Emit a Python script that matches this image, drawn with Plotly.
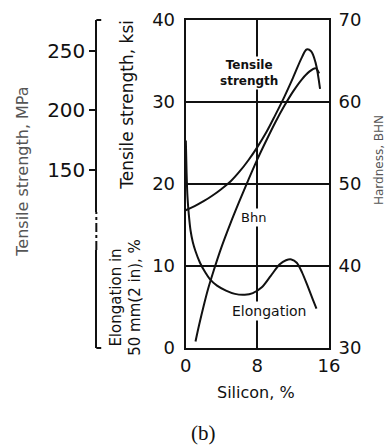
import plotly.graph_objects as go

# ---------------- data ----------------
silicon_tensile = [0, 1, 2, 3, 4, 5, 6, 7, 8, 9, 10, 11, 12, 13, 13.5, 14, 14.5, 15]
tensile_ksi = [16.8, 17.3, 17.9, 18.6, 19.4, 20.3, 21.5, 22.9, 24.5, 26.3, 28.4, 30.6, 33.0, 35.5, 36.4, 36.2, 34.8, 31.6]

silicon_bhn = [1.1, 1.5, 2, 2.5, 3, 4, 5, 6, 7, 8, 9, 10, 11, 12, 13, 13.8, 14.5, 14.9]
hardness_bhn = [30.8, 32.8, 35.1, 37.2, 39.0, 42.3, 45.2, 47.9, 50.5, 53.0, 55.3, 57.5, 59.5, 61.3, 62.8, 63.7, 64.1, 63.5]

silicon_elong = [0.02, 0.1, 0.2, 0.35, 0.55, 0.8, 1.1, 1.6, 2.2, 2.7, 3.5, 4.5, 5.5, 6.6, 7.5, 8.5, 9.5, 10.5, 11.2, 11.8, 12.4, 13, 13.6, 14.2, 14.6]
elongation_pct = [25.3, 21.5, 18.5, 16.3, 14.3, 12.9, 11.8, 10.4, 9.2, 8.4, 7.6, 7.0, 6.6, 6.5, 6.7, 7.4, 8.8, 10.2, 10.7, 10.8, 10.4, 9.2, 7.6, 5.9, 4.8]

x_ticks = [0, 8, 16]
ksi_ticks = [0, 10, 20, 30, 40]
bhn_ticks = [30, 40, 50, 60, 70]
mpa_ticks = [150, 200, 250]
KSI_TO_MPA = 6.895

# ---------------- layout geometry ----------------
W, H = 388, 447
ML, MR, MT, MB = 0, 59, 20, 99
PW = W - ML - MR      # 329
PH = H - MT - MB      # 328
x_dom0 = 183 / PW
side_x = 92 / PW
mpa_bottom = 0.415
elong_top = 0.299

def px(v):
    return v / PW

def py(v):
    return (348 - v) / PH

INK = "#111111"
FONT = "DejaVu Sans"

fig = go.Figure()

# empty traces so the side scales are attached to a subplot
fig.add_trace(go.Scatter(x=[None], y=[None], yaxis="y3", showlegend=False, hoverinfo="skip"))
fig.add_trace(go.Scatter(x=[None], y=[None], yaxis="y4", showlegend=False, hoverinfo="skip"))

fig.add_trace(go.Scatter(x=silicon_tensile, y=tensile_ksi, mode="lines",
                         line=dict(color=INK, width=2, shape="spline", smoothing=1.0),
                         showlegend=False, hoverinfo="skip"))
fig.add_trace(go.Scatter(x=silicon_bhn, y=hardness_bhn, mode="lines", yaxis="y2",
                         line=dict(color=INK, width=2, shape="spline", smoothing=1.0),
                         showlegend=False, hoverinfo="skip"))
fig.add_trace(go.Scatter(x=silicon_elong, y=elongation_pct, mode="lines",
                         line=dict(color=INK, width=2, shape="spline", smoothing=0.8),
                         showlegend=False, hoverinfo="skip"))

tickfont = dict(family=FONT, size=18, color=INK)

fig.update_layout(
    width=W, height=H,
    margin=dict(l=ML, r=MR, t=MT, b=MB, pad=0),
    paper_bgcolor="white", plot_bgcolor="rgba(0,0,0,0)",
    showlegend=False,
    xaxis=dict(domain=[x_dom0, 1], range=[0, 16], tickvals=x_ticks,
               ticks="", showgrid=True, gridcolor=INK, gridwidth=1.6,
               zeroline=False, showline=True, linecolor=INK, linewidth=2,
               mirror=True, tickfont=tickfont, fixedrange=True),
    yaxis=dict(range=[0, 40], tickvals=ksi_ticks, ticks="outside", ticklen=5,
               tickcolor="rgba(0,0,0,0)",
               showgrid=True, gridcolor=INK, gridwidth=1.6, zeroline=False,
               showline=True, linecolor=INK, linewidth=2, mirror=True,
               tickfont=tickfont, fixedrange=True),
    yaxis2=dict(range=[30, 70], tickvals=bhn_ticks, overlaying="y", side="right",
                anchor="x", showgrid=False, zeroline=False, ticks="outside",
                ticklen=5, tickcolor="rgba(0,0,0,0)",
                showline=False, tickfont=tickfont, fixedrange=True),
    yaxis3=dict(domain=[mpa_bottom, 1],
                range=[40 * KSI_TO_MPA * mpa_bottom, 40 * KSI_TO_MPA],
                anchor="free", position=side_x, side="left",
                tickvals=mpa_ticks, ticks="outside", ticklen=6, tickwidth=2,
                tickcolor=INK, showgrid=False, zeroline=False,
                showline=True, linecolor=INK, linewidth=2,
                tickfont=dict(family=FONT, size=20, color=INK), fixedrange=True),
    yaxis4=dict(domain=[0, elong_top], range=[0, 1], anchor="free",
                position=side_x, side="left", showticklabels=False, ticks="",
                showgrid=False, zeroline=False, showline=True,
                linecolor=INK, linewidth=2, fixedrange=True),
)

# dash-dot link between the two side scales and the small end hooks
fig.add_shape(type="line", xref="paper", yref="paper", x0=side_x, x1=side_x,
              y0=elong_top, y1=mpa_bottom, line=dict(color=INK, width=2, dash="dashdot"))
fig.add_shape(type="line", xref="paper", yref="paper", x0=side_x, x1=side_x + px(5),
              y0=1, y1=1, line=dict(color=INK, width=2))
fig.add_shape(type="line", xref="paper", yref="paper", x0=side_x, x1=side_x + px(5),
              y0=0, y1=0, line=dict(color=INK, width=2))

def ann(text, x, y, size, color=INK, angle=0, family=FONT, xref="paper", yref="paper",
        bg=None, bold=False):
    fig.add_annotation(text=f"<b>{text}</b>" if bold else text, x=x, y=y, xref=xref, yref=yref,
                       showarrow=False, textangle=angle, xanchor="center", yanchor="middle",
                       font=dict(family=family, size=size, color=color),
                       bgcolor=bg, borderpad=1)

# in-plot curve labels
ann("Tensile<br>strength", 7.1, 33.5, 12, xref="x", yref="y", bg="white", bold=True)
ann("Bhn", 7.6, 15.9, 13, xref="x", yref="y", bg="white")
ann("Elongation", 9.3, 4.5, 14, xref="x", yref="y", bg="white")

# axis titles
ann("Tensile strength, ksi", px(123), py(105), 17, angle=-90)
ann("Tensile strength, MPa", px(16), py(172), 16, color="#555555", angle=-90)
ann("Elongation in<br>50 mm(2 in), %", px(122), py(297), 15, angle=-90)
ann("Hardness, BHN", px(380), py(160), 12, color="#555555", angle=-90)
ann("Silicon, %", px(255), py(392), 16)
ann("(b)", px(201), py(433), 21, family="Liberation Serif")

fig.write_html("out.html")
